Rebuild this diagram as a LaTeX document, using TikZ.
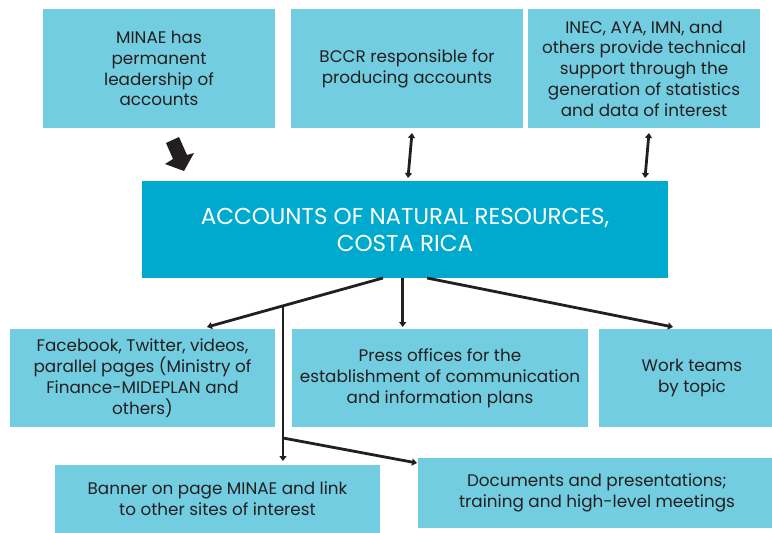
\documentclass[tikz,border=0pt]{standalone}
\usepackage{fontspec}
\setmainfont{Poppins}
\usetikzlibrary{arrows.meta}
\definecolor{lightbox}{RGB}{114,205,224}
\definecolor{mainbox}{RGB}{0,170,206}
\definecolor{ink}{RGB}{35,31,32}
\begin{document}
\begin{tikzpicture}[x=1pt,y=-1pt,
 box/.style={fill=lightbox, inner sep=0pt, align=center, text=ink, font=\fontsize{16.8}{20.8}\selectfont},
 mainnode/.style={fill=mainbox, inner sep=0pt, align=center, text=white, font=\fontsize{23}{27}\selectfont},
 link/.style={draw=ink, line width=2.8pt},
 conn/.style={link, -{Triangle[length=5pt,width=7pt]}},
 dbl/.style={link, {Triangle[length=5pt,width=7pt]}-{Triangle[length=5pt,width=7pt]}}]
\useasboundingbox (0,0) rectangle (772,533);
\begin{scope}
\clip (0,0) rectangle (772,533);
\node[box, minimum width=232pt, minimum height=119pt] (b1) at (159,68.5) {MINAE has\\permanent\\leadership of\\accounts};
\node[box, minimum width=232pt, minimum height=119pt] (b2) at (407,68.5) {BCCR responsible for\\producing accounts};
\node[box, minimum width=232pt, minimum height=119pt] (b3) at (644,68.5) {INEC, AYA, IMN, and\\others provide technical\\support through the\\generation of statistics\\and data of interest};
\node[mainnode, minimum width=526pt, minimum height=97pt] (c) at (405,229.5) {ACCOUNTS OF NATURAL RESOURCES,\\COSTA RICA};
\node[box, minimum width=265pt, minimum height=98pt] (fb) at (142.5,378) {Facebook, Twitter, videos,\\parallel pages (Ministry of\\Finance-MIDEPLAN and\\others)};
\node[box, minimum width=296pt, minimum height=98pt] (pr) at (440,378) {Press offices for the\\establishment of communication\\and information plans};
\node[box, minimum width=186pt, minimum height=98pt] (wt) at (692,378) {Work teams\\by topic};
\node[box, minimum width=325pt, minimum height=68pt] (bn) at (217.5,499) {Banner on page MINAE and link\\to other sites of interest};
\node[box, minimum width=358pt, minimum height=70pt] (dc) at (597,493) {Documents and presentations;\\training and high-level meetings};
\end{scope}
% block arrow
\fill[ink] (166,143) -- (179,137) -- (187,155) -- (194,153) -- (184,171) -- (165,164) -- (173,159) -- cycle;
% double arrows
\coordinate (b2B) at (412,133);
\coordinate (cB2) at (408,178);
\coordinate (b3B) at (649,133);
\coordinate (cB3) at (645,178);
\draw[dbl] (b2B) -- (cB2);
\draw[dbl] (b3B) -- (cB3);
% lower connectors
\coordinate (cL) at (383,278);
\coordinate (cM) at (402.7,278);
\coordinate (cR) at (427,278);
\coordinate (j1) at (283,305.8);
\coordinate (j2) at (283,438);
\coordinate (fbT) at (207,327);
\coordinate (prT) at (402.7,327);
\coordinate (wtT) at (673,327);
\coordinate (bnT) at (283,461);
\coordinate (dcT) at (417,463);
\draw[conn] (cL) -- (fbT);
\draw[conn] (j1) -- (bnT);
\draw[conn] (j2) -- (dcT);
\draw[conn] (cM) -- (prT);
\draw[conn] (cR) -- (wtT);
\end{tikzpicture}
\end{document}
